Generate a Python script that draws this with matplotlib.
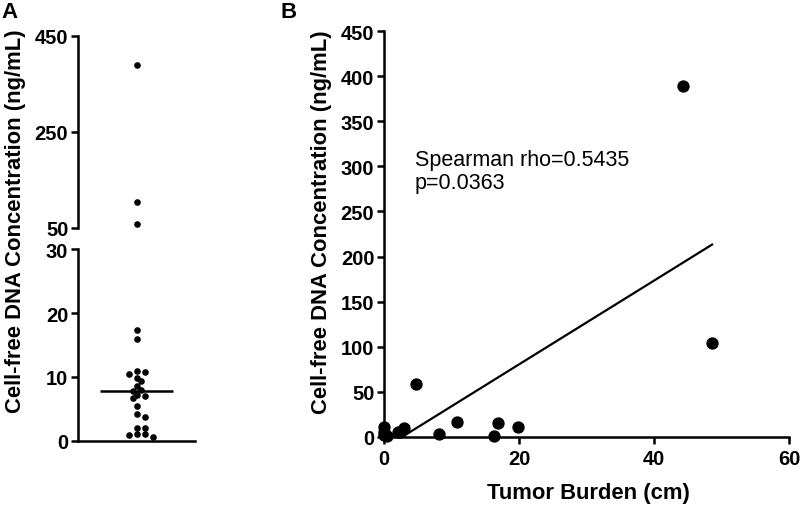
import numpy as np
import matplotlib
matplotlib.use("Agg")
import matplotlib.pyplot as plt

plt.rcParams['font.family'] = ['Liberation Sans', 'DejaVu Sans']
plt.rcParams['font.weight'] = 'bold'

# ---------------- data ----------------
# Panel A: cell-free DNA concentration per patient (ng/mL)
cfdna_a = [389, 104, 58, 17.4, 15.9, 10.9, 10.8, 10.5, 9.9, 9.3, 8.6, 8.0, 7.8,
           7.25, 7.05, 6.7, 5.5, 4.2, 3.8, 2.1, 2.1, 1.15, 1.15, 1.0, 0.7]
a_upper_ticks = [50, 250, 450]
a_lower_ticks = [0, 10, 20, 30]

# Panel B: tumor burden (cm) vs cfDNA (ng/mL)
tumor_burden = [44.3, 48.6, 4.8, 10.8, 16.9, 19.9, 8.1, 16.3, 0.0, 0.0, 0.0, 0.5, 2.0, 2.9, 2.4]
cfdna_b = [389, 104, 59, 16.3, 15.5, 10.7, 3.3, 0.8, 10.7, 5.0, 2.0, 1.0, 5.0, 10.0, 6.0]
b_xticks = [0, 20, 40, 60]
b_yticks = list(range(0, 451, 50))

annot = "Spearman rho=0.5435\np=0.0363"
ylabel = "Cell-free DNA Concentration (ng/mL)"
xlabel_b = "Tumor Burden (cm)"

# ---------------- figure ----------------
W, H = 800, 506
fig = plt.figure(figsize=(W / 100, H / 100), dpi=100)
LW = 1.8
TICK_FS = 14.5
LABEL_FS = 15.8


def style(ax, left=True, bottom=True):
    for s in ['top', 'right']:
        ax.spines[s].set_visible(False)
    ax.spines['left'].set_visible(left)
    ax.spines['bottom'].set_visible(bottom)
    for s in ['left', 'bottom']:
        ax.spines[s].set_linewidth(LW)
    ax.tick_params(direction='out', length=5, width=LW, labelsize=TICK_FS, pad=2)


# Panel A axes (broken y axis)
axAl = fig.add_axes([78 / W, 1 - 442 / H, 117 / W, 192 / H])
axAu = fig.add_axes([78 / W, 1 - 229 / H, 117 / W, 192 / H])
for ax in (axAl, axAu):
    ax.set_xlim(-1, 1)
    ax.set_xticks([])
axAl.set_ylim(0, 30)
axAl.set_yticks(a_lower_ticks)
axAu.set_ylim(50, 450)
axAu.set_yticks(a_upper_ticks)
style(axAl)
style(axAu, bottom=False)

vals = np.array(cfdna_a, dtype=float)
low = vals[vals <= 30]
high = vals[vals > 30]


def swarm_x(ax, yvals, diam_px=5.2, step_px=4.0):
    trans = ax.transData
    ypix = trans.transform(np.column_stack([np.zeros(len(yvals)), yvals]))[:, 1]
    ppu = trans.transform((1, 0))[0] - trans.transform((0, 0))[0]
    cands = [0.0]
    for k in range(1, 30):
        cands += [k * step_px, -k * step_px]
    placed = []
    xs = np.zeros(len(yvals))
    for i in np.argsort(yvals)[::-1]:
        for c in cands:
            if all((c - px) ** 2 + (ypix[i] - py) ** 2 >= diam_px ** 2 for px, py in placed):
                break
        placed.append((c, ypix[i]))
        xs[i] = c
    return xs / ppu


axAl.scatter(swarm_x(axAl, low), low, s=14, color='black', clip_on=False, zorder=3)
axAu.scatter(swarm_x(axAu, high), high, s=14, color='black', clip_on=False, zorder=3)
axAl.hlines(np.median(vals), -0.62, 0.62, color='black', lw=LW, zorder=4)

# Panel B axes
axB = fig.add_axes([384 / W, 1 - 438 / H, 405 / W, 406 / H])
axB.set_xlim(0, 60)
axB.set_ylim(0, 450)
axB.set_xticks(b_xticks)
axB.set_yticks(b_yticks)
style(axB)
axB.tick_params(axis='x', pad=4)

axB.scatter(tumor_burden, cfdna_b, s=62, color='black', clip_on=False, zorder=3)
slope, intercept = np.polyfit(tumor_burden, cfdna_b, 1)
xfit = np.array([0.0, max(tumor_burden)])
axB.plot(xfit, slope * xfit + intercept, color='black', lw=1.6, zorder=2)
axB.text(4.6, 295, annot, fontsize=15.5, fontweight='normal', ha='left', va='center',
         linespacing=1.1)

# labels
fig.text(16 / W, 1 - 221 / H, ylabel, rotation=90, ha='center', va='center',
         fontsize=LABEL_FS, fontweight='bold')
fig.text(321 / W, 1 - 222 / H, ylabel, rotation=90, ha='center', va='center',
         fontsize=LABEL_FS, fontweight='bold')
fig.text(588 / W, 1 - 494 / H, xlabel_b, ha='center', va='center',
         fontsize=LABEL_FS, fontweight='bold')
fig.text(1 / W, 1 - 13 / H, 'A', ha='left', va='center', fontsize=16, fontweight='bold')
fig.text(281 / W, 1 - 13 / H, 'B', ha='left', va='center', fontsize=16, fontweight='bold')

fig.savefig('out.png', dpi=100)
